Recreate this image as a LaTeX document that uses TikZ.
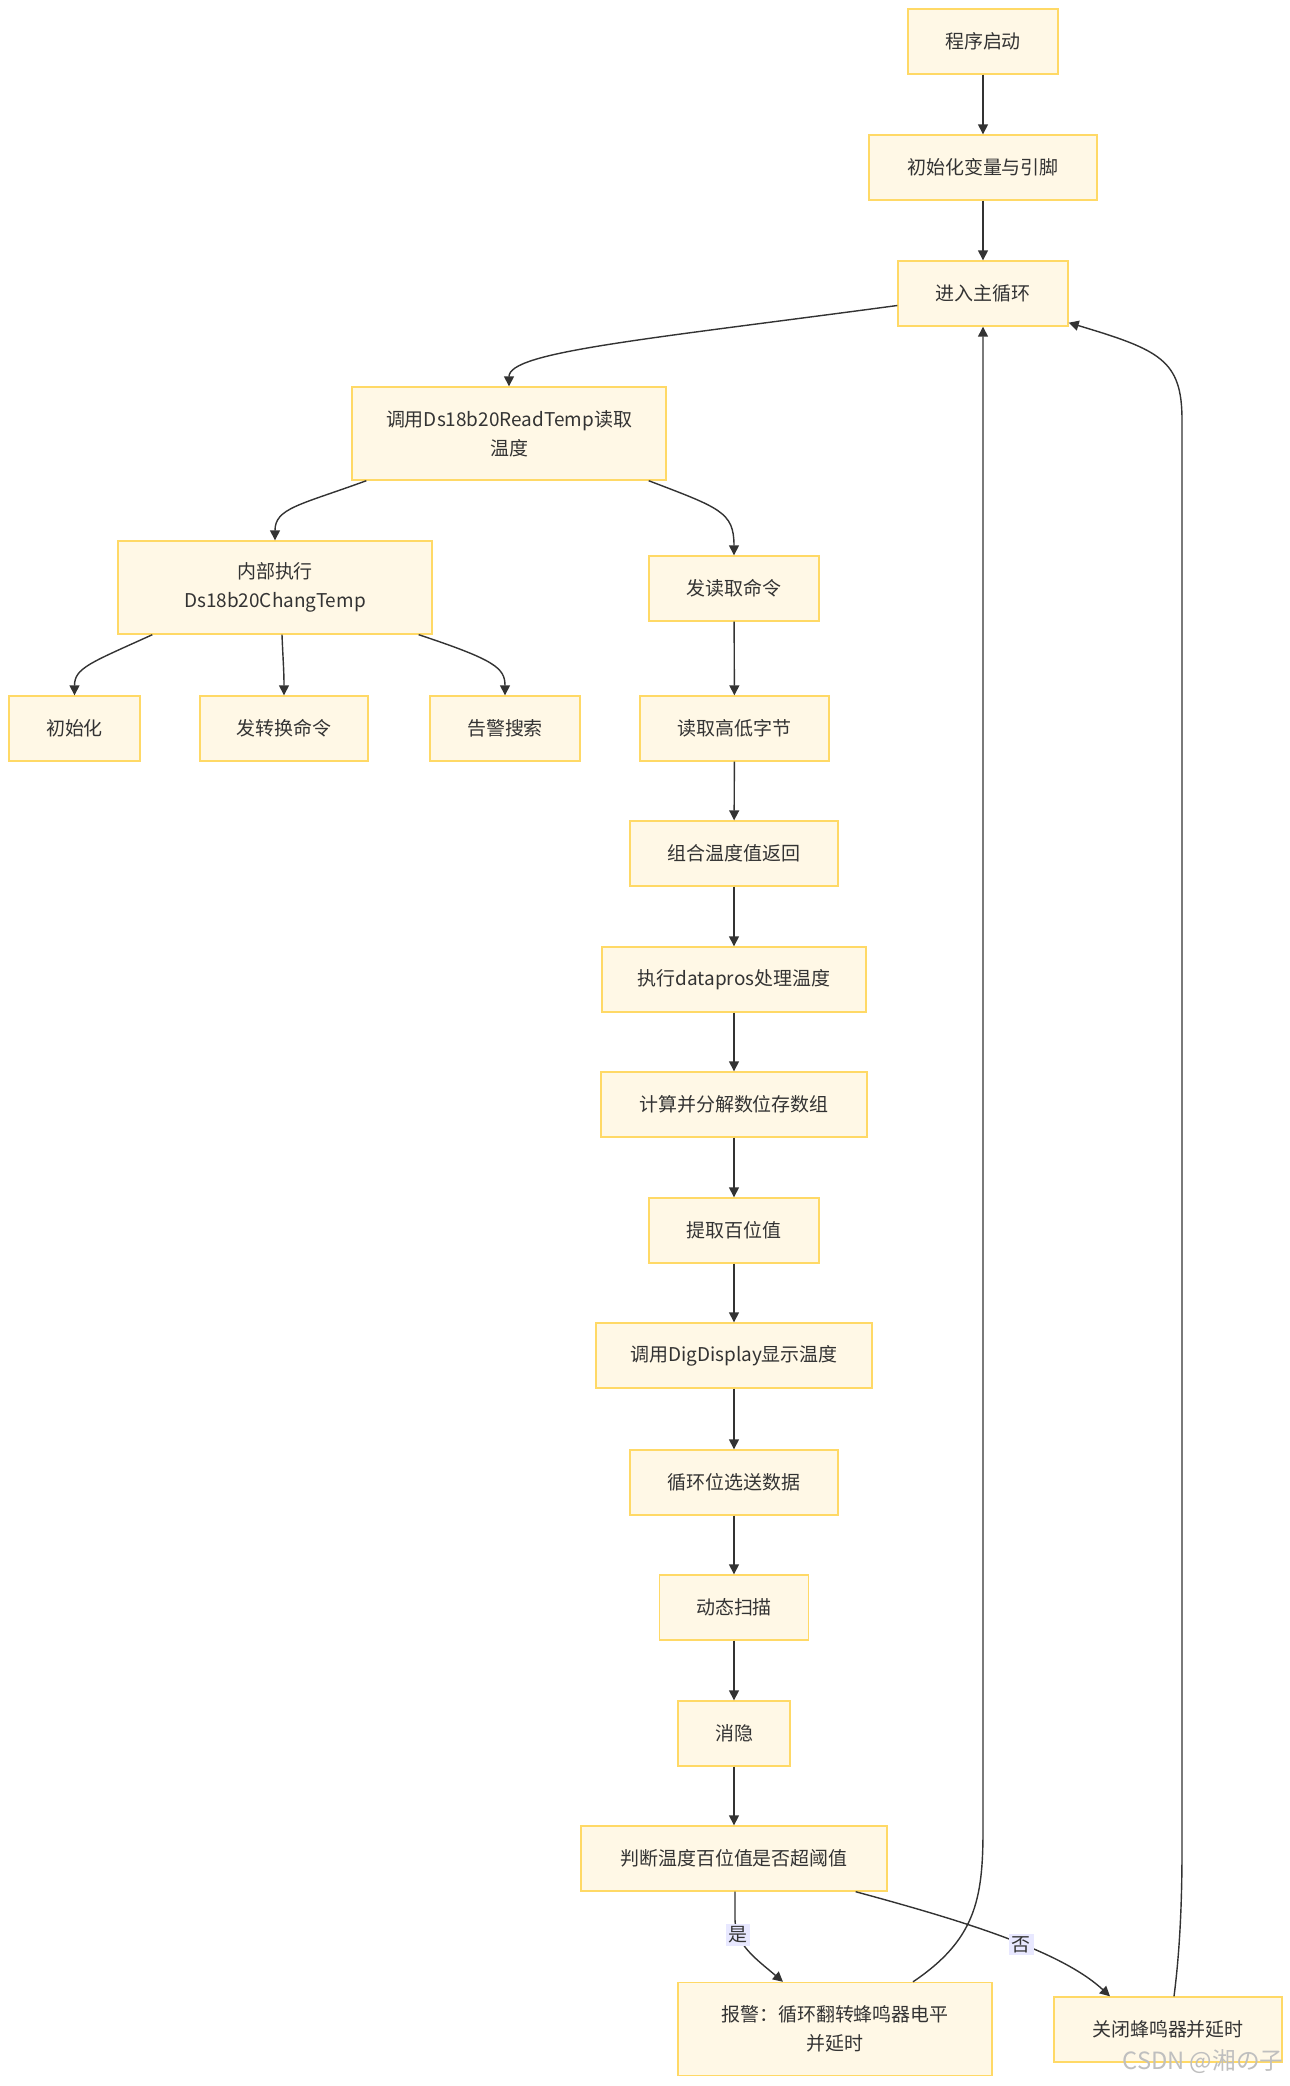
\documentclass[tikz,border=0pt]{standalone}
\usepackage{fontspec}
\setmainfont{Noto Sans CJK SC}
\usepackage{xcolor}
\usepackage{tikz}
\usetikzlibrary{positioning, arrows.meta, calc}

\definecolor{boxfill}{HTML}{FFF8E6}
\definecolor{boxline}{HTML}{FFD966}
\definecolor{inkc}{HTML}{333333}
\definecolor{lblfill}{HTML}{E8E8FF}

\begin{document}
\begin{tikzpicture}[
    x=0.02cm, y=-0.02cm,
    box/.style={rectangle, draw=boxline, fill=boxfill, line width=0.8pt, minimum height=1.3cm, inner sep=0pt, align=center, text=inkc, font=\fontsize{10.8}{16.5}\selectfont},
    tall/.style={minimum height=1.86cm},
    arrow/.style={-{Triangle[length=0.2cm, width=0.2cm]}, draw=inkc, line width=0.8pt},
    lbl/.style={fill=lblfill, inner sep=1.5pt, text=inkc, font=\fontsize{10.8}{12}\selectfont}
]
\useasboundingbox (0,0) rectangle (1290,2086);

\node[box, minimum width=3.0cm] (start) at (983, 41.5) {程序启动};
\node[box, minimum width=4.56cm] (init) at (983, 167.5) {初始化变量与引脚};
\node[box, minimum width=3.4cm] (loop) at (983, 293.5) {进入主循环};
\node[box, tall, minimum width=6.28cm] (rd) at (509, 433.5) {调用Ds18b20ReadTemp读取\\温度};
\node[box, tall, minimum width=6.28cm] (inner) at (275, 587.5) {内部执行\\Ds18b20ChangTemp};
\node[box, minimum width=3.4cm] (rdcmd) at (734, 588.5) {发读取命令};
\node[box, minimum width=2.62cm] (ini) at (74.5, 728.5) {初始化};
\node[box, minimum width=3.36cm] (conv) at (284, 728.5) {发转换命令};
\node[box, minimum width=3.0cm] (srch) at (505, 728.5) {告警搜索};
\node[box, minimum width=3.78cm] (rbyte) at (734.5, 728.5) {读取高低字节};
\node[box, minimum width=4.16cm] (comb) at (734, 853.5) {组合温度值返回};
\node[box, minimum width=5.28cm] (dpro) at (734, 979.5) {执行datapros处理温度};
\node[box, minimum width=5.32cm] (calc) at (734, 1104.5) {计算并分解数位存数组};
\node[box, minimum width=3.4cm] (hund) at (734, 1230.5) {提取百位值};
\node[box, minimum width=5.52cm] (disp) at (734, 1355.5) {调用DigDisplay显示温度};
\node[box, minimum width=4.16cm] (sel) at (734, 1482.5) {循环位选送数据};
\node[box, minimum width=2.98cm] (scan) at (734, 1607.5) {动态扫描};
\node[box, minimum width=2.24cm] (blank) at (734, 1733.5) {消隐};
\node[box, minimum width=6.12cm] (judge) at (734, 1858.5) {判断温度百位值是否超阈值};
\node[box, tall, minimum width=6.28cm] (alarm) at (835, 2029) {报警：循环翻转蜂鸣器电平\\并延时};
\node[box, minimum width=4.56cm] (off) at (1168, 2029.5) {关闭蜂鸣器并延时};

\draw[arrow] (start) -- (init);
\draw[arrow] (init) -- (loop);
\draw[arrow] ($(loop.west)+(0,12)$) .. controls (640,340) and (509,352) .. (rd.north);
\draw[arrow] ($(rd.south west)+(15,0)$) .. controls (300,505) and (275,508) .. (inner.north);
\draw[arrow] ($(rd.south east)+(-18,0)$) .. controls (720,508) and (734,512) .. (rdcmd.north);
\draw[arrow] ($(inner.south west)+(35,0)$) .. controls (90,663) and (74.5,668) .. (ini.north);
\draw[arrow] ($(inner.south)+(7,0)$) .. controls (283,660) and (284,670) .. (conv.north);
\draw[arrow] ($(inner.south east)+(-14,0)$) .. controls (495,660) and (505,668) .. (srch.north);
\draw[arrow] (rdcmd) -- (rbyte);
\draw[arrow] (rbyte) -- (comb);
\draw[arrow] (comb) -- (dpro);
\draw[arrow] (dpro) -- (calc);
\draw[arrow] (calc) -- (hund);
\draw[arrow] (hund) -- (disp);
\draw[arrow] (disp) -- (sel);
\draw[arrow] (sel) -- (scan);
\draw[arrow] (scan) -- (blank);
\draw[arrow] (blank) -- (judge);
\draw[arrow] ($(judge.south)+(1,0)$) -- (735,1920) .. controls (736,1945) and (755,1958) .. ($(alarm.north)+(-52,0)$)
    node[lbl, pos=0.22] (yes) {是};
\draw[arrow] ($(judge.south east)+(-32,0)$) .. controls (960,1920) and (1060,1950) .. ($(off.north)+(-58,0)$)
    node[lbl, pos=0.57] (no) {否};
\draw[arrow] ($(alarm.north)+(78,0)$) .. controls (975,1940) and (983,1900) .. (983,1830) -- (loop.south);
\draw[arrow] ($(off.north)+(6,0)$) .. controls (1180,1950) and (1182,1900) .. (1182,1850)
    -- (1182,420) .. controls (1182,360) and (1160,350) .. ($(loop.south east)+(0,-4)$);

\node[text=gray!50, font=\fontsize{13.5}{15}\selectfont] (wm) at (1203, 2062) {CSDN @湘の子};

\end{tikzpicture}
\end{document}
